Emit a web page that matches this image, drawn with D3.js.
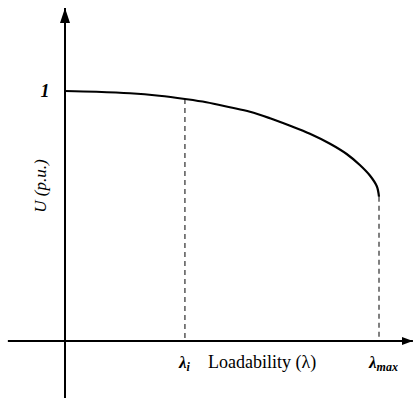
<!DOCTYPE html>
<html>
<head>
<meta charset="utf-8">
<script src="https://cdn.jsdelivr.net/npm/d3@7"></script>
<style>
  html, body { margin: 0; padding: 0; background: #fff; }
  svg { display: block; }
</style>
</head>
<body>
<svg id="chart" width="413" height="400"></svg>
<script>
// P-V (nose) curve: voltage vs. loadability, normalised so lambda_max = 1
const lambdaValues = [0, 0.10, 0.207, 0.30, 0.382, 0.45, 0.525, 0.589, 0.653, 0.717, 0.780, 0.844, 0.897, 0.939, 0.971, 0.993, 1.0];
const voltageValues = [1.0, 0.997, 0.991, 0.981, 0.968, 0.955, 0.935, 0.917, 0.891, 0.861, 0.829, 0.789, 0.748, 0.704, 0.662, 0.619, 0.577];

// Marked operating points on the loadability axis
const lambdaI = 0.382;
const lambdaMax = 1.0;
const voltageTick = 1;

// Axis extents (in data units) including the arrow overhang
const xAxisExtent = [-0.182, 1.108];
const yAxisExtent = [-0.228, 1.332];

const SERIF = "'Liberation Serif', 'Times New Roman', 'DejaVu Serif', serif";

const svg = d3.select("#chart");

const x = d3.scaleLinear().domain([0, 1]).range([65, 379]);
const y = d3.scaleLinear().domain([0, 1]).range([341, 91]);

const defs = svg.append("defs");
defs.append("marker")
  .attr("id", "arrowX")
  .attr("viewBox", "0 0 11 8")
  .attr("refX", 11).attr("refY", 4)
  .attr("markerWidth", 11).attr("markerHeight", 8)
  .attr("markerUnits", "userSpaceOnUse")
  .attr("orient", "auto")
  .append("path").attr("d", "M0,0 L11,4 L0,8 Z").attr("fill", "#000");
defs.append("marker")
  .attr("id", "arrowY")
  .attr("viewBox", "0 0 15 10")
  .attr("refX", 15).attr("refY", 5)
  .attr("markerWidth", 15).attr("markerHeight", 10)
  .attr("markerUnits", "userSpaceOnUse")
  .attr("orient", "auto")
  .append("path").attr("d", "M0,0 L15,5 L0,10 Z").attr("fill", "#000");

// Axes
svg.append("line")
  .attr("x1", x(xAxisExtent[0])).attr("x2", x(xAxisExtent[1]))
  .attr("y1", y(0)).attr("y2", y(0))
  .attr("stroke", "#000").attr("stroke-width", 2)
  .attr("marker-end", "url(#arrowX)");
svg.append("line")
  .attr("x1", x(0)).attr("x2", x(0))
  .attr("y1", y(yAxisExtent[0])).attr("y2", y(yAxisExtent[1]))
  .attr("stroke", "#000").attr("stroke-width", 2)
  .attr("marker-end", "url(#arrowY)");

// Curve
const pts = lambdaValues.map((l, i) => [l, voltageValues[i]]);
const line = d3.line()
  .x(d => x(d[0])).y(d => y(d[1]))
  .curve(d3.curveCatmullRom.alpha(0.5));
svg.append("path")
  .datum(pts)
  .attr("d", line)
  .attr("fill", "none")
  .attr("stroke", "#000")
  .attr("stroke-width", 2.2);

// Dashed guide lines from the curve down to the loadability axis
const uAt = d3.scaleLinear().domain(lambdaValues).range(voltageValues);
[lambdaI, lambdaMax].forEach(l => {
  svg.append("line")
    .attr("x1", x(l)).attr("x2", x(l))
    .attr("y1", y(uAt(l))).attr("y2", y(0))
    .attr("stroke", "#000").attr("stroke-width", 1)
    .attr("stroke-dasharray", "5,4");
});

// Voltage tick label
svg.append("text")
  .attr("x", x(0) - 20).attr("y", y(voltageTick) + 6)
  .attr("text-anchor", "middle")
  .attr("font-family", SERIF)
  .attr("font-size", 18).attr("font-style", "italic").attr("font-weight", "bold")
  .text(voltageTick);

// Y axis title
svg.append("text")
  .attr("transform", `translate(46,${y(0.62)}) rotate(-90)`)
  .attr("text-anchor", "middle")
  .attr("font-family", SERIF)
  .attr("font-size", 17).attr("font-style", "italic")
  .text("U (p.u.)");

// Loadability labels
const lblY = y(0) + 27;
const li = svg.append("text")
  .attr("x", x(lambdaI) - 6).attr("y", lblY)
  .attr("font-family", SERIF)
  .attr("font-size", 17).attr("font-style", "italic").attr("font-weight", "bold");
li.append("tspan").text("λ");
li.append("tspan").attr("font-size", 12).attr("dy", 3).text("i");

svg.append("text")
  .attr("x", x(lambdaI) + 23).attr("y", lblY)
  .attr("font-family", SERIF)
  .attr("font-size", 18)
  .text("Loadability (λ)");

const lm = svg.append("text")
  .attr("x", x(lambdaMax) - 10).attr("y", lblY)
  .attr("font-family", SERIF)
  .attr("font-size", 17).attr("font-style", "italic").attr("font-weight", "bold");
lm.append("tspan").text("λ");
lm.append("tspan").attr("font-size", 12).attr("dy", 3).text("max");
</script>
</body>
</html>
